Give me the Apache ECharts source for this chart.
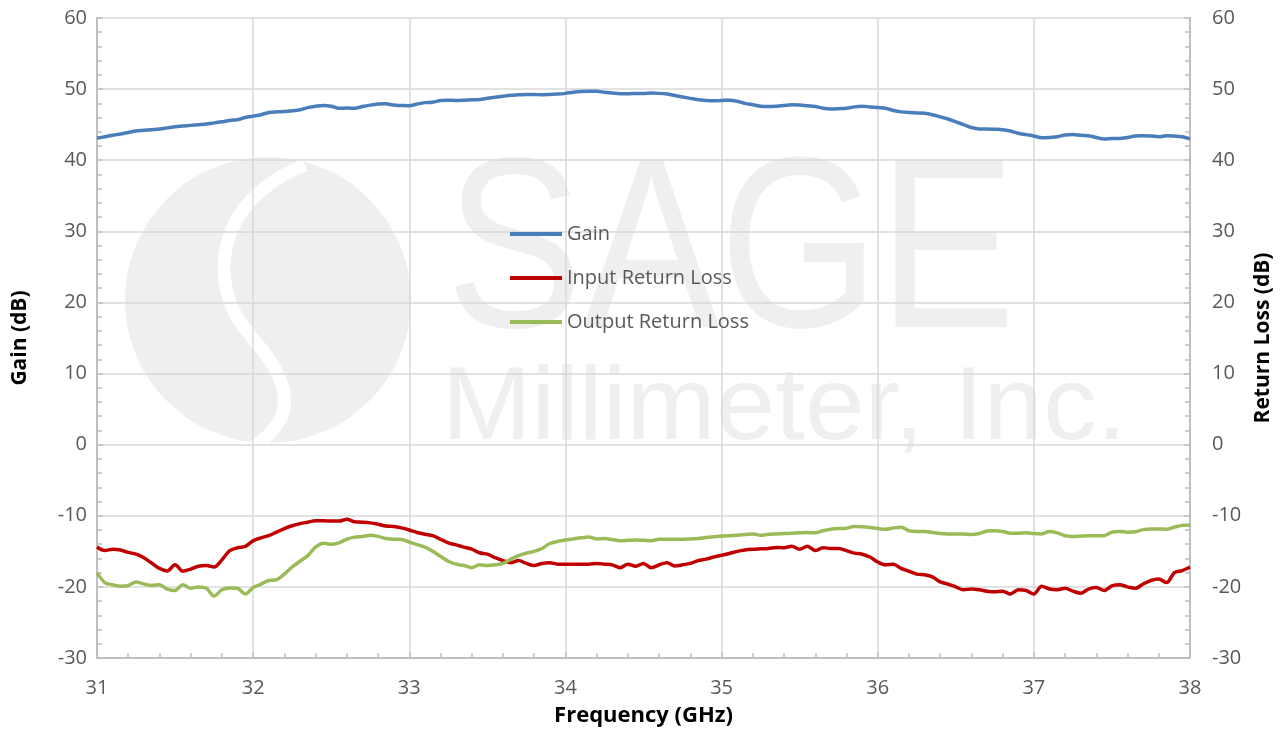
<!DOCTYPE html>
<html>
<head>
<meta charset="utf-8">
<script src="https://cdn.jsdelivr.net/npm/echarts@6/dist/echarts.min.js"></script>
<style>
  html, body { margin: 0; padding: 0; background: #fff; }
  #chart { width: 1284px; height: 732px; }
</style>
</head>
<body>
<div id="chart"></div>
<script>
// frequency points (GHz)
var freq = [
  31.00, 31.05, 31.10, 31.15, 31.20, 31.25, 31.30, 31.35, 31.40, 31.45,
  31.50, 31.55, 31.60, 31.65, 31.70, 31.75, 31.80, 31.85, 31.90, 31.95,
  32.00, 32.05, 32.10, 32.15, 32.20, 32.25, 32.30, 32.35, 32.40, 32.45,
  32.50, 32.55, 32.60, 32.65, 32.70, 32.75, 32.80, 32.85, 32.90, 32.95,
  33.00, 33.05, 33.10, 33.15, 33.20, 33.25, 33.30, 33.35, 33.40, 33.45,
  33.50, 33.55, 33.60, 33.65, 33.70, 33.75, 33.80, 33.85, 33.90, 33.95,
  34.00, 34.05, 34.10, 34.15, 34.20, 34.25, 34.30, 34.35, 34.40, 34.45,
  34.50, 34.55, 34.60, 34.65, 34.70, 34.75, 34.80, 34.85, 34.90, 34.95,
  35.00, 35.05, 35.10, 35.15, 35.20, 35.25, 35.30, 35.35, 35.40, 35.45,
  35.50, 35.55, 35.60, 35.65, 35.70, 35.75, 35.80, 35.85, 35.90, 35.95,
  36.00, 36.05, 36.10, 36.15, 36.20, 36.25, 36.30, 36.35, 36.40, 36.45,
  36.50, 36.55, 36.60, 36.65, 36.70, 36.75, 36.80, 36.85, 36.90, 36.95,
  37.00, 37.05, 37.10, 37.15, 37.20, 37.25, 37.30, 37.35, 37.40, 37.45,
  37.50, 37.55, 37.60, 37.65, 37.70, 37.75, 37.80, 37.85, 37.90, 37.95,
  38.00
];

// Gain (dB)
var gain = [
  43.1, 43.3, 43.5, 43.7, 43.9, 44.1, 44.2, 44.3, 44.4, 44.55,
  44.7, 44.8, 44.9, 45.0, 45.1, 45.25, 45.4, 45.6, 45.7, 46.0,
  46.2, 46.4, 46.7, 46.8, 46.85, 46.95, 47.1, 47.4, 47.6, 47.7,
  47.6, 47.3, 47.35, 47.3, 47.55, 47.75, 47.9, 47.95, 47.75, 47.7,
  47.65, 47.9, 48.1, 48.15, 48.4, 48.45, 48.4, 48.45, 48.5, 48.55,
  48.7, 48.85, 49.0, 49.15, 49.2, 49.25, 49.25, 49.2, 49.25, 49.3,
  49.4, 49.55, 49.65, 49.7, 49.7, 49.55, 49.45, 49.35, 49.35, 49.4,
  49.4, 49.45, 49.4, 49.3, 49.1, 48.9, 48.7, 48.5, 48.4, 48.35,
  48.4, 48.45, 48.3, 48.0, 47.8, 47.6, 47.55, 47.6, 47.7, 47.8,
  47.75, 47.65, 47.55, 47.3, 47.2, 47.25, 47.3, 47.5, 47.6, 47.5,
  47.4, 47.3, 47.0, 46.8, 46.7, 46.65, 46.6, 46.4, 46.1, 45.8,
  45.4, 45.0, 44.6, 44.4, 44.4, 44.35, 44.3, 44.1, 43.8, 43.6,
  43.4, 43.15, 43.2, 43.3, 43.55, 43.6, 43.5, 43.45, 43.2, 43.0,
  43.05, 43.05, 43.2, 43.4, 43.45, 43.4, 43.3, 43.45, 43.4, 43.3,
  43.0
];

// Input Return Loss (dB)
var inputRL = [
  -14.4, -14.9, -14.7, -14.8, -15.15, -15.4, -15.9, -16.65, -17.4, -17.75,
  -16.9, -17.8, -17.5, -17.1, -17.0, -17.2, -16.2, -14.9, -14.5, -14.3,
  -13.5, -13.1, -12.8, -12.3, -11.8, -11.4, -11.1, -10.9, -10.7, -10.7,
  -10.75, -10.75, -10.5, -10.85, -10.9, -11.0, -11.2, -11.45, -11.5, -11.7,
  -12.0, -12.35, -12.6, -12.8, -13.3, -13.8, -14.1, -14.4, -14.7, -15.2,
  -15.4, -15.9, -16.3, -16.6, -16.3, -16.7, -17.0, -16.7, -16.6, -16.8,
  -16.8, -16.8, -16.8, -16.8, -16.7, -16.8, -16.9, -17.3, -16.8, -17.1,
  -16.7, -17.3, -16.9, -16.6, -17.05, -16.9, -16.7, -16.3, -16.1, -15.8,
  -15.55, -15.3, -15.0, -14.8, -14.7, -14.65, -14.6, -14.45, -14.5, -14.3,
  -14.7, -14.3, -14.9, -14.5, -14.6, -14.6, -14.9, -15.25, -15.4, -15.8,
  -16.5, -16.9, -16.8, -17.4, -17.8, -18.2, -18.3, -18.6, -19.3, -19.6,
  -20.0, -20.4, -20.3, -20.4, -20.6, -20.7, -20.6, -21.0, -20.4, -20.5,
  -21.0, -19.9, -20.3, -20.4, -20.2, -20.6, -20.9, -20.3, -20.1, -20.5,
  -19.85, -19.7, -20.0, -20.2, -19.6, -19.1, -18.9, -19.4, -18.0, -17.7,
  -17.2
];

// Output Return Loss (dB)
var outputRL = [
  -18.0, -19.4, -19.7, -19.9, -19.8, -19.3, -19.6, -19.8, -19.7, -20.3,
  -20.5, -19.7, -20.2, -20.0, -20.2, -21.3, -20.4, -20.15, -20.2, -21.0,
  -20.1, -19.6, -19.1, -19.0, -18.2, -17.2, -16.4, -15.6, -14.4, -13.85,
  -14.0, -13.8, -13.3, -13.0, -12.9, -12.75, -12.9, -13.2, -13.3, -13.35,
  -13.7, -14.05, -14.4, -15.0, -15.7, -16.4, -16.8, -17.0, -17.3, -16.9,
  -17.0, -16.9, -16.7, -16.1, -15.6, -15.25, -15.0, -14.6, -13.9, -13.6,
  -13.4, -13.25, -13.1, -13.0, -13.25, -13.2, -13.35, -13.5, -13.45, -13.4,
  -13.45, -13.5, -13.3, -13.3, -13.3, -13.3, -13.25, -13.2, -13.05, -12.95,
  -12.85, -12.8, -12.75, -12.65, -12.55, -12.75, -12.6, -12.55, -12.5, -12.45,
  -12.4, -12.35, -12.4, -12.1, -11.9, -11.8, -11.75, -11.5, -11.55, -11.65,
  -11.8, -11.9, -11.7, -11.6, -12.1, -12.2, -12.2, -12.35, -12.5, -12.55,
  -12.55, -12.55, -12.65, -12.5, -12.15, -12.1, -12.2, -12.45, -12.45, -12.4,
  -12.5, -12.55, -12.2, -12.4, -12.8, -12.9, -12.85, -12.8, -12.8, -12.8,
  -12.3, -12.2, -12.3, -12.25, -11.95, -11.85, -11.85, -11.9, -11.6, -11.35,
  -11.3
];

var seriesNames = ['Gain', 'Input Return Loss', 'Output Return Loss'];
var seriesColors = ['#4a7ebb', '#c00000', '#9bbb59'];

function pairs(xs, ys) {
  return xs.map(function (x, i) { return [x, ys[i]]; });
}

var font = '"Open Sans", Lato, sans-serif';
var axisGrey = '#bfbfbf';
var gridGrey = '#d9d9d9';

var chart = echarts.init(document.getElementById('chart'));

var valueAxisCommon = {
  type: 'value',
  min: -30,
  max: 60,
  interval: 10,
  nameLocation: 'middle',
  nameRotate: 90,
  nameTextStyle: { fontFamily: font, fontSize: 21, fontWeight: 'bold', color: '#000' },
  axisLine: { show: true, lineStyle: { color: axisGrey, width: 2 } },
  axisTick: { show: true, inside: true, length: 6, lineStyle: { color: axisGrey, width: 1.5 } },
  minorTick: { show: true, splitNumber: 5, length: 5, lineStyle: { color: axisGrey, width: 1.5 } },
  axisLabel: { fontFamily: font, fontSize: 20, color: '#595959' }
};

var option = {
  animation: false,
  backgroundColor: '#fff',
  grid: { left: 97, right: 94, top: 18, bottom: 74 },
  graphic: [
    // watermark (logo + company name)
    {
      type: 'circle', z: -10, silent: true,
      shape: { cx: 268, cy: 300, r: 143 },
      style: { fill: '#efefef' }
    },
    {
      type: 'bezierCurve', z: -9, silent: true,
      shape: { x1: 305, y1: 165, cpx1: 215, cpy1: 200, cpx2: 205, cpy2: 285, x2: 250, y2: 335 },
      style: { fill: null, stroke: '#ffffff', lineWidth: 13 }
    },
    {
      type: 'bezierCurve', z: -9, silent: true,
      shape: { x1: 250, y1: 335, cpx1: 290, cpy1: 380, cpx2: 300, cpy2: 415, x2: 255, y2: 446 },
      style: { fill: null, stroke: '#ffffff', lineWidth: 13 }
    },
    {
      type: 'text', z: -10, silent: true,
      x: 446, y: 138, scaleX: 0.84,
      style: { text: 'SAGE', fontFamily: '"Liberation Sans", sans-serif', fontSize: 244, fill: '#efefef' }
    },
    {
      type: 'text', z: -10, silent: true,
      x: 442, y: 358, scaleX: 1.03,
      style: { text: 'Millimeter, Inc.', fontFamily: '"Liberation Sans", sans-serif', fontSize: 104, fill: '#efefef' }
    }
  ],
  legend: {
    orient: 'vertical',
    left: 505,
    top: 219,
    itemWidth: 52,
    itemHeight: 4,
    itemGap: 24,
    icon: 'rect',
    data: seriesNames,
    textStyle: { fontFamily: font, fontSize: 20, color: '#595959' }
  },
  xAxis: {
    type: 'value',
    min: 31,
    max: 38,
    interval: 1,
    name: 'Frequency (GHz)',
    nameLocation: 'middle',
    nameGap: 47,
    nameTextStyle: { fontFamily: font, fontSize: 22, fontWeight: 'bold', color: '#000' },
    axisLine: { show: true, onZero: false, lineStyle: { color: axisGrey, width: 2 } },
    axisTick: { show: true, inside: true, length: 6, lineStyle: { color: axisGrey, width: 1.5 } },
    minorTick: { show: true, splitNumber: 5, length: 5, lineStyle: { color: axisGrey, width: 1.5 } },
    axisLabel: { fontFamily: font, fontSize: 20, color: '#595959', margin: 20 },
    splitLine: { show: true, lineStyle: { color: gridGrey, width: 1.5 } }
  },
  yAxis: [
    Object.assign({}, valueAxisCommon, {
      position: 'left',
      name: 'Gain (dB)',
      nameGap: 66,
      axisLabel: Object.assign({}, valueAxisCommon.axisLabel, { margin: 10 }),
      splitLine: { show: true, lineStyle: { color: gridGrey, width: 1.5 } }
    }),
    Object.assign({}, valueAxisCommon, {
      position: 'right',
      name: 'Return Loss (dB)',
      nameGap: 63,
      axisLabel: Object.assign({}, valueAxisCommon.axisLabel, { margin: 22 }),
      splitLine: { show: false }
    })
  ],
  series: [
    {
      name: seriesNames[0], type: 'line', yAxisIndex: 0,
      data: pairs(freq, gain), symbol: 'none', smooth: 0.3,
      lineStyle: { color: seriesColors[0], width: 3.5 }, itemStyle: { color: seriesColors[0] }
    },
    {
      name: seriesNames[1], type: 'line', yAxisIndex: 1,
      data: pairs(freq, inputRL), symbol: 'none', smooth: 0.3,
      lineStyle: { color: seriesColors[1], width: 3.5 }, itemStyle: { color: seriesColors[1] }
    },
    {
      name: seriesNames[2], type: 'line', yAxisIndex: 1,
      data: pairs(freq, outputRL), symbol: 'none', smooth: 0.3,
      lineStyle: { color: seriesColors[2], width: 3.5 }, itemStyle: { color: seriesColors[2] }
    }
  ]
};

chart.setOption(option);
</script>
</body>
</html>
